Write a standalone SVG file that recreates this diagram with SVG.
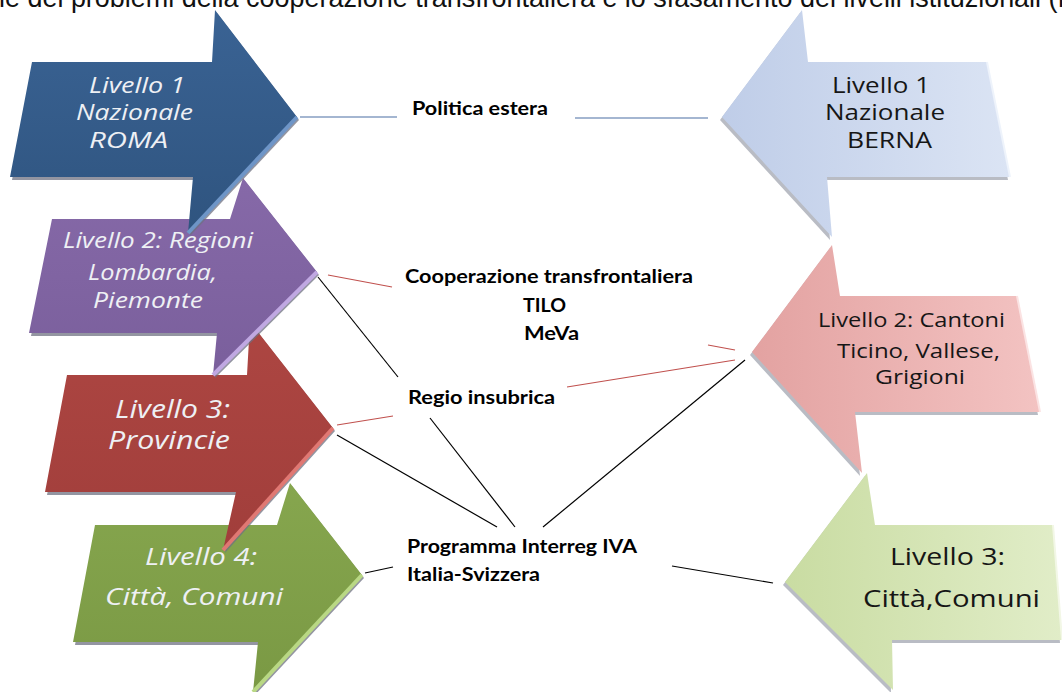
<svg xmlns="http://www.w3.org/2000/svg" width="1062" height="692" viewBox="0 0 1062 692">
  <defs>
    <linearGradient id="gBlue" x1="0" y1="0" x2="0" y2="1">
      <stop offset="0" stop-color="#3a6394"/>
      <stop offset="1" stop-color="#2f547f"/>
    </linearGradient>
    <linearGradient id="gPurple" x1="0" y1="0" x2="0" y2="1">
      <stop offset="0" stop-color="#8669a8"/>
      <stop offset="1" stop-color="#7a5f9c"/>
    </linearGradient>
    <linearGradient id="gRed" x1="0" y1="0" x2="0" y2="1">
      <stop offset="0" stop-color="#ad4642"/>
      <stop offset="1" stop-color="#a13e3b"/>
    </linearGradient>
    <linearGradient id="gGreen" x1="0" y1="0" x2="0" y2="1">
      <stop offset="0" stop-color="#86a64e"/>
      <stop offset="1" stop-color="#7a9944"/>
    </linearGradient>
    <linearGradient id="gLBlue" x1="0" y1="0" x2="1" y2="0">
      <stop offset="0" stop-color="#bfcde8"/>
      <stop offset="1" stop-color="#dbe4f4"/>
    </linearGradient>
    <linearGradient id="gPink" x1="0" y1="0" x2="1" y2="0">
      <stop offset="0" stop-color="#e3a2a1"/>
      <stop offset="1" stop-color="#f3c3c2"/>
    </linearGradient>
    <linearGradient id="gLGreen" x1="0" y1="0" x2="1" y2="0">
      <stop offset="0" stop-color="#c9dca2"/>
      <stop offset="1" stop-color="#e1edc8"/>
    </linearGradient>
  </defs>
  <style>
    .caption { font-family: "Liberation Sans", Arial, sans-serif; font-size: 27px; fill: #111; }
    .lbl-dark { font-family: "Open Sans", "Noto Sans", sans-serif; font-style: italic; fill: #eef0f4; }
    .lbl-light { font-family: "Open Sans", "Noto Sans", sans-serif; fill: #161616; }
    .topic { font-family: Lato, "Open Sans", sans-serif; font-weight: bold; font-size: 19px; fill: #000; }
    .depth-l { fill: #6f7282; opacity: 0.75; }
    .depth-r { fill: #8a8f9c; opacity: 0.6; }
    .line-blue { stroke: #4a6ea4; stroke-width: 1.2; fill: none; }
    .line-red { stroke: #c0504d; stroke-width: 1.1; fill: none; }
    .line-black { stroke: #000; stroke-width: 1.2; fill: none; }
  </style>

  <rect width="1062" height="692" fill="#fff"/>

  <!-- caption line, partly cut off at the top edge -->
  <text class="caption" x="-1" y="7" textLength="1066" lengthAdjust="spacingAndGlyphs">le dei problemi della cooperazione transfrontaliera e lo sfasamento dei livelli istituzionali (f</text>

  <!-- Swiss levels (arrows pointing left) -->
  <g id="ch-livello3">
    <polygon class="depth-r" transform="translate(-2,3)" points="867,473 875,525 1053,525 1062,640 892,640 893,690 785,582"/>
    <polygon fill="url(#gLGreen)" points="867,473 875,525 1053,525 1062,640 892,640 893,690 785,582"/>
    <line x1="1053" y1="525" x2="1062" y2="640" stroke="#f2f7e6" stroke-width="2"/>
    <text class="lbl-light" x="890" y="565" font-size="24" textLength="115" lengthAdjust="spacingAndGlyphs">Livello 3:</text>
    <text class="lbl-light" x="863" y="607" font-size="24" textLength="177" lengthAdjust="spacingAndGlyphs">Città,Comuni</text>
  </g>

  <g id="ch-livello2">
    <polygon class="depth-r" transform="translate(-2,3)" points="832,245 840,296 1017,296 1040,412 855,412 862,473 752,352"/>
    <polygon fill="url(#gPink)" points="832,245 840,296 1017,296 1040,412 855,412 862,473 752,352"/>
    <line x1="1017" y1="296" x2="1040" y2="412" stroke="#fbe3e3" stroke-width="2"/>
    <text class="lbl-light" x="818" y="327" font-size="20" textLength="187" lengthAdjust="spacingAndGlyphs">Livello 2: Cantoni</text>
    <text class="lbl-light" x="837" y="358" font-size="20" textLength="163" lengthAdjust="spacingAndGlyphs">Ticino, Vallese,</text>
    <text class="lbl-light" x="875" y="384" font-size="20" textLength="90" lengthAdjust="spacingAndGlyphs">Grigioni</text>
  </g>

  <g id="ch-livello1">
    <polygon class="depth-r" transform="translate(-2,3)" points="802,10 808,62 987,62 1010,177 827,177 832,237 722,117"/>
    <polygon fill="url(#gLBlue)" points="802,10 808,62 987,62 1010,177 827,177 832,237 722,117"/>
    <line x1="987" y1="62" x2="1010" y2="177" stroke="#eef3fb" stroke-width="2"/>
    <text class="lbl-light" x="832" y="93" font-size="21" textLength="98" lengthAdjust="spacingAndGlyphs">Livello 1</text>
    <text class="lbl-light" x="825" y="120" font-size="21" textLength="120" lengthAdjust="spacingAndGlyphs">Nazionale</text>
    <text class="lbl-light" x="847" y="148" font-size="21" textLength="85" lengthAdjust="spacingAndGlyphs">BERNA</text>
  </g>

  <!-- Italian levels (arrows pointing right), lowest drawn first -->
  <g id="it-livello4">
    <polygon class="depth-l" transform="translate(2,3)" points="290,483 362,575 253,692 258,642 73,642 95,525 277,525"/>
    <polygon fill="url(#gGreen)" points="290,483 362,575 253,692 258,642 73,642 95,525 277,525"/>
    <line x1="362" y1="575" x2="253" y2="692" stroke="#b9d884" stroke-width="4"/>
    <text class="lbl-dark" x="145" y="565" font-size="24" textLength="112" lengthAdjust="spacingAndGlyphs">Livello 4:</text>
    <text class="lbl-dark" x="105" y="605" font-size="24" textLength="178" lengthAdjust="spacingAndGlyphs">Città, Comuni</text>
  </g>

  <g id="it-livello3">
    <polygon class="depth-l" transform="translate(2,3)" points="250,322 333,428 223,550 236,492 45,492 67,375 247,375"/>
    <polygon fill="url(#gRed)" points="250,322 333,428 223,550 236,492 45,492 67,375 247,375"/>
    <line x1="333" y1="428" x2="223" y2="550" stroke="#e07873" stroke-width="4"/>
    <text class="lbl-dark" x="115" y="418" font-size="25" textLength="115" lengthAdjust="spacingAndGlyphs">Livello 3:</text>
    <text class="lbl-dark" x="108" y="449" font-size="25" textLength="122" lengthAdjust="spacingAndGlyphs">Provincie</text>
  </g>

  <g id="it-livello2">
    <polygon class="depth-l" transform="translate(2,3)" points="243,178 317,272 213,375 217,333 29,333 52,219 230,219"/>
    <polygon fill="url(#gPurple)" points="243,178 317,272 213,375 217,333 29,333 52,219 230,219"/>
    <line x1="317" y1="272" x2="213" y2="375" stroke="#c0a8e2" stroke-width="4"/>
    <text class="lbl-dark" x="63" y="248" font-size="21" textLength="190" lengthAdjust="spacingAndGlyphs">Livello 2: Regioni</text>
    <text class="lbl-dark" x="88" y="280" font-size="21" textLength="129" lengthAdjust="spacingAndGlyphs">Lombardia,</text>
    <text class="lbl-dark" x="93" y="308" font-size="21" textLength="110" lengthAdjust="spacingAndGlyphs">Piemonte</text>
  </g>

  <g id="it-livello1">
    <polygon class="depth-l" transform="translate(2,3)" points="215,10 297,117 188,233 193,177 10,177 32,62 212,62"/>
    <polygon fill="url(#gBlue)" points="215,10 297,117 188,233 193,177 10,177 32,62 212,62"/>
    <line x1="297" y1="117" x2="188" y2="233" stroke="#6e95c7" stroke-width="4"/>
    <text class="lbl-dark" x="89" y="93" font-size="21" textLength="96" lengthAdjust="spacingAndGlyphs">Livello 1</text>
    <text class="lbl-dark" x="76" y="120" font-size="21" textLength="117" lengthAdjust="spacingAndGlyphs">Nazionale</text>
    <text class="lbl-dark" x="89" y="148" font-size="21" textLength="79" lengthAdjust="spacingAndGlyphs">ROMA</text>
  </g>

  <!-- connectors between levels and cooperation topics -->
  <g id="connectors">
    <line class="line-blue" x1="300" y1="117" x2="397" y2="117"/>
    <line class="line-blue" x1="575" y1="118" x2="708" y2="118"/>

    <line class="line-red" x1="328" y1="275" x2="392" y2="287"/>
    <line class="line-red" x1="708" y1="345" x2="735" y2="350"/>
    <line class="line-red" x1="567" y1="387" x2="735" y2="360"/>
    <line class="line-red" x1="337" y1="425" x2="393" y2="416"/>

    <line class="line-black" x1="318" y1="277" x2="398" y2="377"/>
    <line class="line-black" x1="430" y1="418" x2="515" y2="527"/>
    <line class="line-black" x1="337" y1="435" x2="497" y2="527"/>
    <line class="line-black" x1="745" y1="360" x2="543" y2="527"/>
    <line class="line-black" x1="365" y1="573" x2="393" y2="567"/>
    <line class="line-black" x1="672" y1="566" x2="773" y2="583"/>
  </g>

  <!-- cooperation topics -->
  <g id="topic-politica">
    <text class="topic" x="412" y="115" textLength="136" lengthAdjust="spacingAndGlyphs">Politica estera</text>
  </g>
  <g id="topic-cooperazione">
    <text class="topic" x="405" y="283" textLength="288" lengthAdjust="spacingAndGlyphs">Cooperazione transfrontaliera</text>
    <text class="topic" x="523" y="312" textLength="43" lengthAdjust="spacingAndGlyphs">TILO</text>
    <text class="topic" x="524" y="340" textLength="55" lengthAdjust="spacingAndGlyphs">MeVa</text>
  </g>
  <g id="topic-regio">
    <text class="topic" x="408" y="404" textLength="147" lengthAdjust="spacingAndGlyphs">Regio insubrica</text>
  </g>
  <g id="topic-interreg">
    <text class="topic" x="407" y="553" textLength="230" lengthAdjust="spacingAndGlyphs">Programma Interreg IVA</text>
    <text class="topic" x="407" y="581" textLength="133" lengthAdjust="spacingAndGlyphs">Italia-Svizzera</text>
  </g>
</svg>
